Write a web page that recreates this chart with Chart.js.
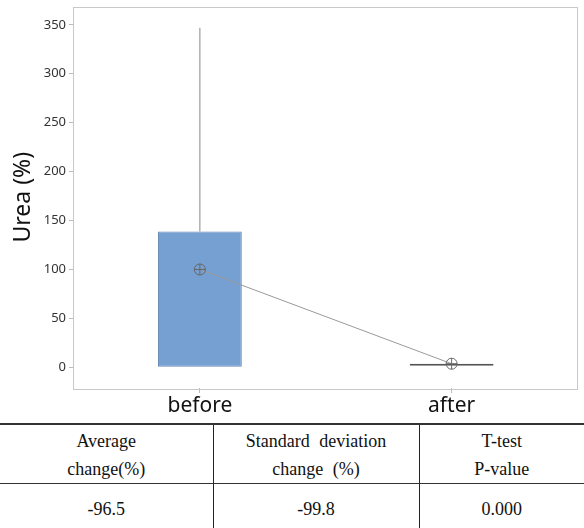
<!DOCTYPE html>
<html>
<head>
<meta charset="utf-8">
<script src="https://cdn.jsdelivr.net/npm/chart.js@4/dist/chart.umd.min.js"></script>
<style>
  html, body { margin: 0; padding: 0; background: #fff; }
  #wrap { width: 584px; }
  canvas { display: block; }
  table.stats {
    width: 584px; border-collapse: collapse; margin-top: 3px;
    font-family: "Liberation Serif", "Times New Roman", serif; font-size: 18px; color: #111;
    table-layout: fixed;
  }
  table.stats td { text-align: center; vertical-align: middle; padding: 0; line-height: 28px; }
  table.stats tr.head td { height: 55px; border-top: 2px solid #333; border-bottom: 1px solid #333; padding-top: 2px; }
  table.stats tr.vals td { height: 45px; border-bottom: 1px solid #cfcfcf; padding-top: 2px; }
  table.stats td.mid { border-left: 1px solid #222; border-right: 1px solid #222; }
  .wide { word-spacing: 5px; }
</style>
</head>
<body>
<div id="wrap">
  <canvas id="c" width="584" height="420"></canvas>
  <table class="stats">
    <colgroup><col style="width:213px"><col style="width:206px"><col style="width:165px"></colgroup>
    <tr class="head" id="headRow"></tr>
    <tr class="vals" id="valRow"></tr>
  </table>
</div>
<script>
// Groups and box-plot summaries
const categories = ['before', 'after'];
const lowerQuartile = [0, 3.7];
const upperQuartile = [138.8, 3.7];
const whiskerTop = [347, 3.7];
const means = [100, 3.7];

// Summary table
const tableHeaders = [['Average', 'change(%)'], ['Standard deviation', 'change (%)'], ['T-test', 'P-value']];
const tableValues = ['-96.5', '-99.8', '0.000'];

const headRow = document.getElementById('headRow');
const valRow = document.getElementById('valRow');
tableHeaders.forEach((lines, i) => {
  const td = document.createElement('td');
  if (i === 1) { td.className = 'mid'; }
  td.innerHTML = lines.map(l => '<span class="' + (i === 1 ? 'wide' : '') + '">' + l + '</span>').join('<br>');
  headRow.appendChild(td);
});
tableValues.forEach((v, i) => {
  const td = document.createElement('td');
  if (i === 1) { td.className = 'mid'; }
  td.textContent = v;
  valRow.appendChild(td);
});

// Frame around the plotting area
const frame = {
  id: 'frame',
  beforeDatasetsDraw(chart) {
    const { ctx, chartArea: a } = chart;
    ctx.save();
    ctx.strokeStyle = '#c8c8c8';
    ctx.lineWidth = 1;
    ctx.strokeRect(Math.round(a.left) - 0.5, Math.round(a.top) + 0.5, Math.round(a.right - a.left), Math.round(a.bottom - a.top));
    ctx.restore();
  }
};

// Keep the plotting area flush with the layout padding
function noEdgePadding(s) {
  s.paddingTop = 0; s.paddingBottom = 0; s.paddingLeft = 0; s.paddingRight = 0;
}

const font = 'Noto Sans';
new Chart(document.getElementById('c'), {
  type: 'bar',
  data: {
    labels: categories,
    datasets: [
      {
        type: 'line', label: 'mean cross', data: means, showLine: false,
        pointStyle: 'cross', pointRadius: 5.5, pointBorderColor: '#666', pointBorderWidth: 1,
        order: 0
      },
      {
        type: 'line', label: 'mean', data: means,
        borderColor: '#999', borderWidth: 1, tension: 0,
        pointStyle: 'circle', pointRadius: 5.5, pointBorderColor: '#666', pointBorderWidth: 1,
        pointBackgroundColor: 'rgba(0,0,0,0)',
        order: 1
      },
      {
        label: 'box', data: categories.map((_, i) => [lowerQuartile[i], upperQuartile[i]]),
        backgroundColor: ['#769fd2', '#555555'], borderColor: ['#6586b3', '#555555'],
        borderWidth: 1, borderSkipped: false, inflateAmount: 0, minBarLength: 2,
        categoryPercentage: 1, barPercentage: 0.333, grouped: false,
        order: 2
      },
      {
        label: 'whisker', data: categories.map((_, i) => [upperQuartile[i], whiskerTop[i]]),
        backgroundColor: '#888', borderWidth: 0, inflateAmount: 0,
        barThickness: 1, grouped: false,
        order: 3
      }
    ]
  },
  options: {
    responsive: false,
    animation: false,
    layout: { padding: { top: 6, right: 1, left: 0, bottom: 0 } },
    plugins: { legend: { display: false }, tooltip: { enabled: false } },
    scales: {
      x: {
        offset: true,
        border: { display: false },
        grid: { drawOnChartArea: false, drawTicks: true, tickLength: 5, color: '#bbb', offset: false },
        ticks: { color: '#111', font: { family: font, size: 21 }, padding: 0 },
        afterFit(s) { s.height = 32; noEdgePadding(s); }
      },
      y: {
        min: -21.1, max: 368.7,
        border: { display: false },
        grid: { drawOnChartArea: false, drawTicks: true, tickLength: 5, color: '#bbb' },
        ticks: { stepSize: 50, color: '#333', font: { family: font, size: 13 }, padding: 3 },
        afterBuildTicks(s) { s.ticks = s.ticks.filter(t => t.value % 50 === 0); },
        title: { display: true, text: 'Urea (%)', color: '#111', font: { family: font, size: 23 }, padding: { top: 10, bottom: 0 } },
        afterFit(s) { s.width = 74; noEdgePadding(s); }
      }
    }
  },
  plugins: [frame]
});
</script>
</body>
</html>
